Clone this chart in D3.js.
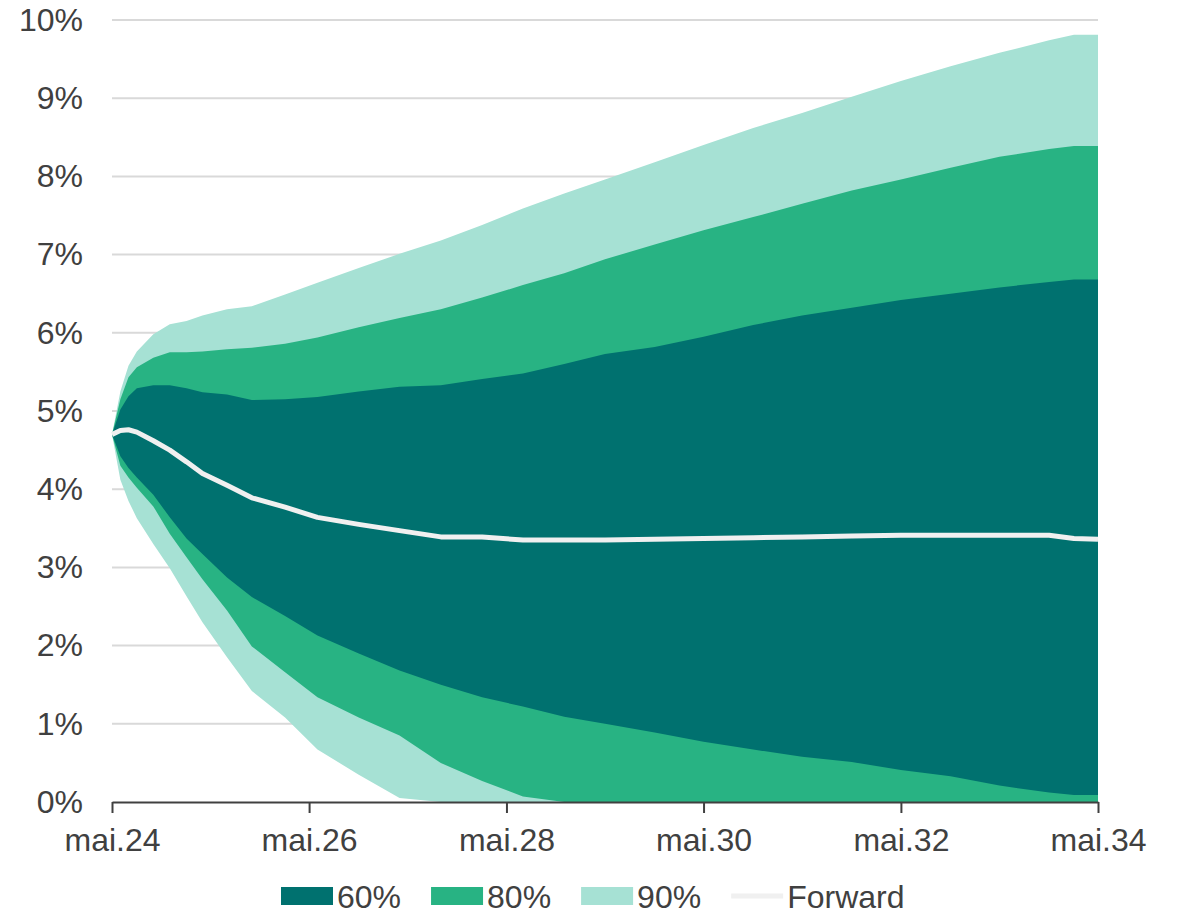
<!DOCTYPE html>
<html lang="no">
<head>
<meta charset="utf-8">
<script src="https://cdn.jsdelivr.net/npm/d3@7"></script>
<style>
  html, body { margin: 0; padding: 0; background: #ffffff; }
  svg { display: block; font-family: Arial, "Liberation Sans", sans-serif; }
</style>
</head>
<body>
<svg id="chart" width="1183" height="916"></svg>
<script>
// Months ahead of May 2024 at which the interval edges are sampled
const monthsAhead = [0, 1, 2, 3, 5, 7, 9, 11, 14, 17, 21, 25, 30, 35, 40, 45, 50, 55, 60, 66, 72, 78, 84, 90, 96, 102, 108, 114, 117, 120];

// Forward rate (percent)
const forward = [4.70, 4.75, 4.76, 4.73, 4.62, 4.50, 4.35, 4.20, 4.05, 3.89, 3.77, 3.64, 3.55, 3.47, 3.39, 3.39, 3.35, 3.35, 3.35, 3.36, 3.37, 3.38, 3.39, 3.40, 3.41, 3.41, 3.41, 3.41, 3.37, 3.36];

// 60 % interval
const band60Low  = [4.70, 4.42, 4.27, 4.15, 3.93, 3.64, 3.37, 3.17, 2.87, 2.62, 2.38, 2.13, 1.90, 1.68, 1.50, 1.34, 1.22, 1.09, 1.00, 0.89, 0.77, 0.67, 0.58, 0.51, 0.41, 0.33, 0.21, 0.12, 0.09, 0.09];
const band60High = [4.70, 5.02, 5.19, 5.29, 5.33, 5.33, 5.29, 5.24, 5.21, 5.14, 5.15, 5.18, 5.25, 5.31, 5.33, 5.41, 5.48, 5.60, 5.73, 5.82, 5.95, 6.10, 6.22, 6.32, 6.42, 6.50, 6.58, 6.65, 6.68, 6.68];

// 80 % interval
const band80Low  = [4.70, 4.30, 4.15, 4.02, 3.78, 3.43, 3.13, 2.85, 2.45, 1.99, 1.66, 1.34, 1.08, 0.85, 0.50, 0.27, 0.07, 0.00, 0.00, 0.00, 0.00, 0.00, 0.00, 0.00, 0.00, 0.00, 0.00, 0.00, 0.00, 0.00];
const band80High = [4.70, 5.15, 5.43, 5.56, 5.68, 5.75, 5.75, 5.76, 5.79, 5.81, 5.86, 5.94, 6.07, 6.19, 6.30, 6.45, 6.61, 6.76, 6.94, 7.13, 7.31, 7.48, 7.65, 7.82, 7.96, 8.11, 8.25, 8.35, 8.39, 8.39];

// 90 % interval
const band90Low  = [4.70, 4.12, 3.85, 3.63, 3.30, 2.99, 2.63, 2.30, 1.85, 1.42, 1.08, 0.67, 0.35, 0.05, 0.00, 0.00, 0.00, 0.00, 0.00, 0.00, 0.00, 0.00, 0.00, 0.00, 0.00, 0.00, 0.00, 0.00, 0.00, 0.00];
const band90High = [4.70, 5.25, 5.58, 5.76, 5.98, 6.11, 6.15, 6.22, 6.30, 6.34, 6.49, 6.64, 6.83, 7.01, 7.18, 7.38, 7.59, 7.78, 7.96, 8.18, 8.40, 8.62, 8.81, 9.02, 9.22, 9.41, 9.58, 9.74, 9.81, 9.81];

// Axis ticks
const yTicks = [0, 1, 2, 3, 4, 5, 6, 7, 8, 9, 10];
const xTickMonths = [0, 24, 48, 72, 96, 120];

// Legend entries
const legendLabels = ["60%", "80%", "90%", "Forward"];
const colors = { b60: "#00716f", b80: "#28b383", b90: "#a6e1d4", fwd: "#f0f0f0" };

const startDate = new Date(2024, 4, 1);
const dates = monthsAhead.map(m => d3.timeMonth.offset(startDate, m));

const nbLocale = d3.timeFormatLocale({
  dateTime: "%A %e. %B %Y kl. %X", date: "%d.%m.%Y", time: "%H:%M:%S",
  periods: ["AM", "PM"],
  days: ["søndag", "mandag", "tirsdag", "onsdag", "torsdag", "fredag", "lørdag"],
  shortDays: ["søn", "man", "tir", "ons", "tor", "fre", "lør"],
  months: ["januar", "februar", "mars", "april", "mai", "juni", "juli", "august", "september", "oktober", "november", "desember"],
  shortMonths: ["jan", "feb", "mar", "apr", "mai", "jun", "jul", "aug", "sep", "okt", "nov", "des"]
});
const fmtTick = nbLocale.format("%b.%y");

const svg = d3.select("#chart");
const plotLeft = 112, plotRight = 1098, plotTop = 20, plotBottom = 802;

const x = d3.scaleTime()
  .domain([startDate, d3.timeMonth.offset(startDate, 120)])
  .range([plotLeft, plotRight]);
const y = d3.scaleLinear().domain([0, 10]).range([plotBottom, plotTop]);

const textColor = "#404040";
const fontSize = 32;

// Horizontal gridlines
svg.append("g")
  .selectAll("line")
  .data(yTicks.filter(d => d > 0))
  .join("line")
  .attr("x1", plotLeft).attr("x2", plotRight)
  .attr("y1", d => y(d)).attr("y2", d => y(d))
  .attr("stroke", "#d9d9d9").attr("stroke-width", 2);

// Y axis labels
const yAxis = svg.append("g")
  .attr("transform", `translate(${plotLeft - 29},0)`)
  .call(d3.axisLeft(y).tickValues(yTicks).tickFormat(d => d + "%").tickSize(0).tickPadding(0));
yAxis.select(".domain").remove();
yAxis.selectAll("text")
  .attr("fill", textColor)
  .style("font-size", fontSize + "px")
  .style("font-family", "Arial, 'Liberation Sans', sans-serif");

// Confidence bands, widest first
function band(lo, hi) {
  return d3.area()
    .x((d, i) => x(dates[i]))
    .y0((d, i) => y(lo[i]))
    .y1((d, i) => y(hi[i]))(monthsAhead);
}
svg.append("path").attr("d", band(band90Low, band90High)).attr("fill", colors.b90);
svg.append("path").attr("d", band(band80Low, band80High)).attr("fill", colors.b80);
svg.append("path").attr("d", band(band60Low, band60High)).attr("fill", colors.b60);

// Forward curve
const line = d3.line()
  .x((d, i) => x(dates[i]))
  .y(d => y(d));
svg.append("path")
  .attr("d", line(forward))
  .attr("fill", "none")
  .attr("stroke", colors.fwd)
  .attr("stroke-width", 5)
  .attr("stroke-linejoin", "round");

// X axis
const xAxis = svg.append("g")
  .attr("transform", `translate(0,${plotBottom})`)
  .call(d3.axisBottom(x)
    .tickValues(xTickMonths.map(m => d3.timeMonth.offset(startDate, m)))
    .tickFormat(fmtTick)
    .tickSize(11)
    .tickSizeOuter(0)
    .tickPadding(15));
xAxis.select(".domain").attr("stroke", textColor).attr("stroke-width", 2);
xAxis.selectAll(".tick line").attr("stroke", textColor).attr("stroke-width", 2);
xAxis.selectAll("text")
  .attr("fill", textColor)
  .style("font-size", fontSize + "px")
  .style("font-family", "Arial, 'Liberation Sans', sans-serif");

// Legend
const legend = svg.append("g").attr("transform", "translate(281,896)");
const legendFills = [colors.b60, colors.b80, colors.b90];
let cursor = 0;
legendLabels.forEach((label, i) => {
  const g = legend.append("g").attr("transform", `translate(${cursor},0)`);
  if (i < 3) {
    g.append("rect").attr("x", 0).attr("y", -9).attr("width", 52).attr("height", 18).attr("fill", legendFills[i]);
  } else {
    g.append("line").attr("x1", 0).attr("x2", 52).attr("y1", 0).attr("y2", 0)
      .attr("stroke", colors.fwd).attr("stroke-width", 5);
  }
  const t = g.append("text")
    .attr("x", 56).attr("y", 0).attr("dy", "0.36em")
    .attr("fill", textColor)
    .style("font-size", fontSize + "px")
    .text(label);
  cursor += 56 + t.node().getComputedTextLength() + 30;
});
</script>
</body>
</html>
